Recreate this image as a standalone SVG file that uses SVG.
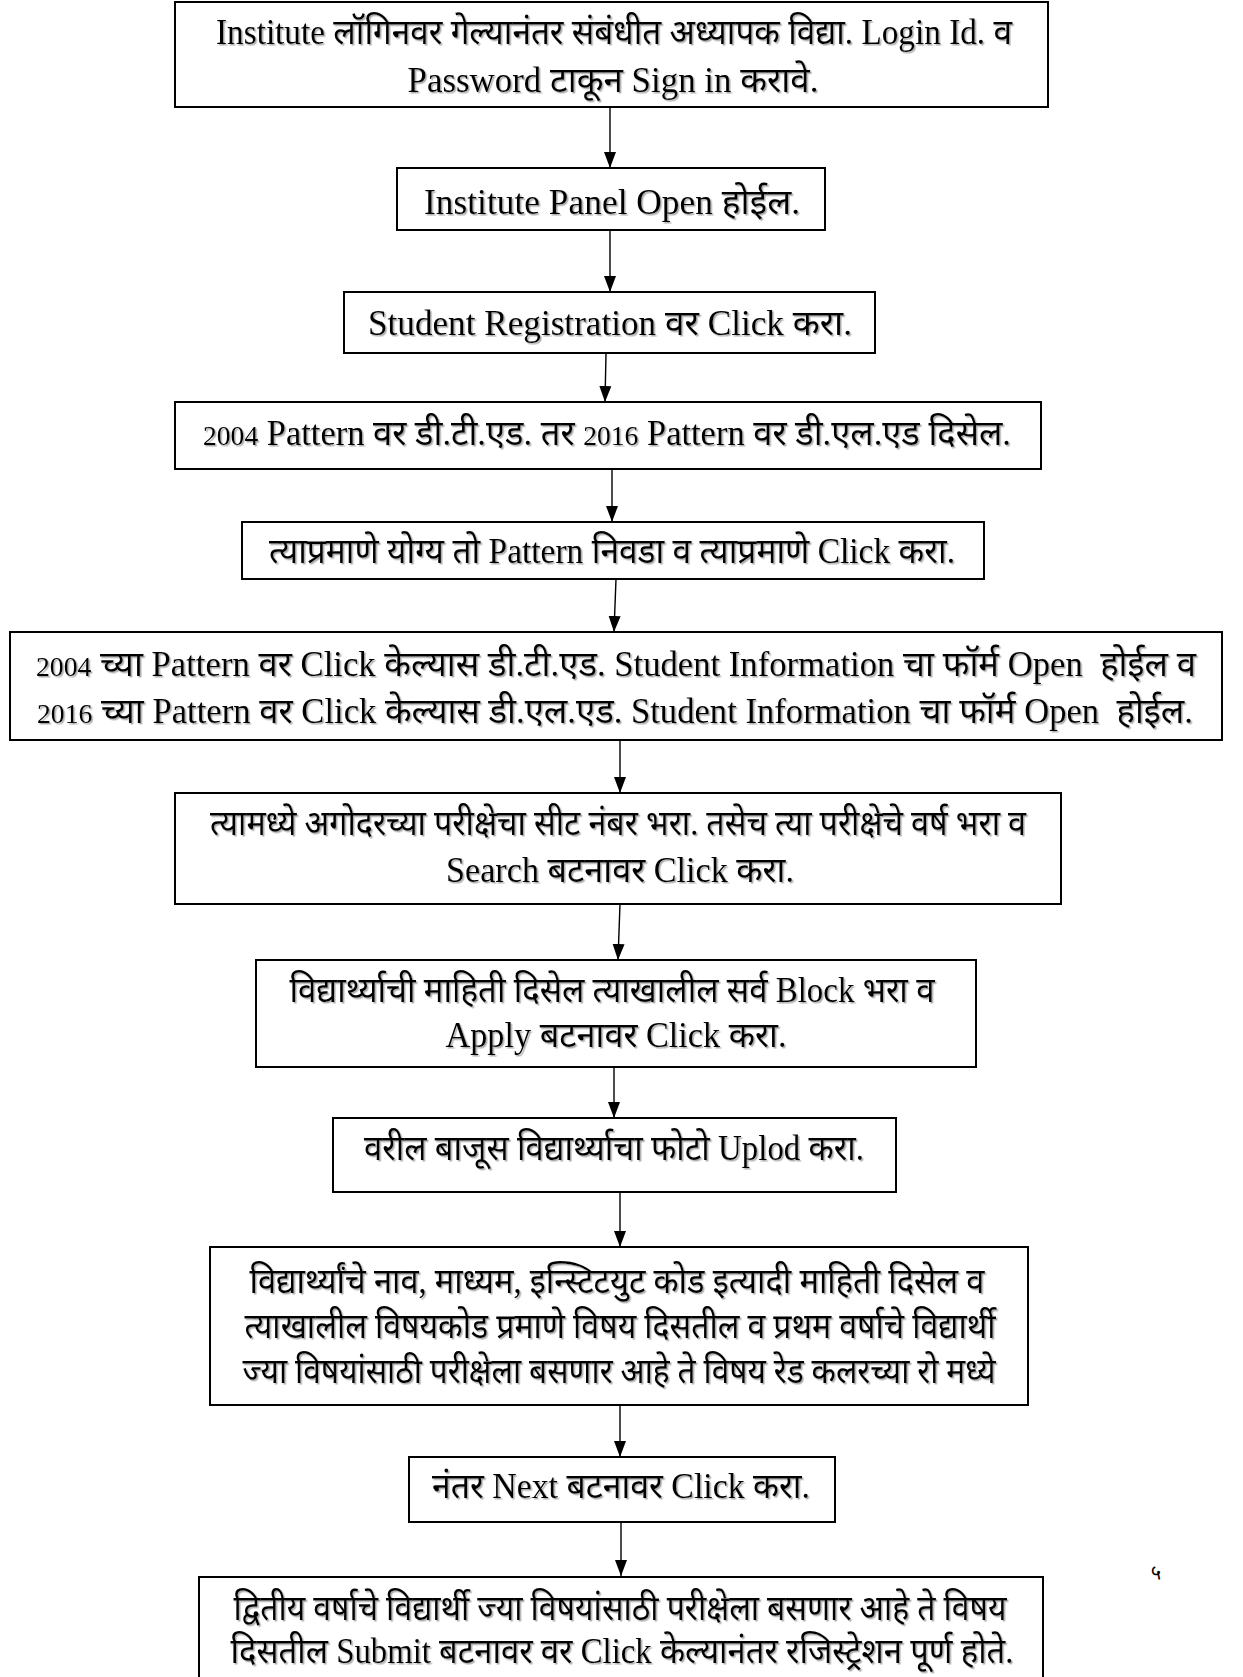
<svg xmlns="http://www.w3.org/2000/svg" width="1243" height="1677" viewBox="0 0 1243 1677">
<style>
.box{fill:#fff;stroke:#000;stroke-width:2}
.t{font-family:"Liberation Serif","Noto Sans",serif;font-size:35px;fill:#000;text-anchor:middle;filter:url(#sh)}
.d{font-size:28px}
.c{stroke:#000;stroke-width:1.4;fill:none;marker-end:url(#ah)}
</style>
<defs>
<marker id="ah" markerUnits="userSpaceOnUse" markerWidth="17" markerHeight="14" refX="16" refY="6.5" orient="auto" viewBox="0 0 17 14">
<path d="M0,0.5 L16,6.5 L0,12.5 z" fill="#000"/>
</marker>
<filter id="sh" x="-5%" y="-30%" width="110%" height="160%">
<feDropShadow dx="1.5" dy="1.5" stdDeviation="0.6" flood-color="#888" flood-opacity="0.7"/>
</filter>
</defs>
<rect width="1243" height="1677" fill="#fff"/>
<g id="connectors">
<line class="c" x1="610" y1="107" x2="610" y2="168"/>
<line class="c" x1="610" y1="230" x2="610" y2="292"/>
<line class="c" x1="606" y1="353" x2="605" y2="402"/>
<line class="c" x1="612" y1="469" x2="612" y2="522"/>
<line class="c" x1="616" y1="579" x2="614" y2="632"/>
<line class="c" x1="620" y1="740" x2="620" y2="793"/>
<line class="c" x1="620" y1="904" x2="618" y2="960"/>
<line class="c" x1="614" y1="1067" x2="614" y2="1118"/>
<line class="c" x1="620" y1="1192" x2="620" y2="1247"/>
<line class="c" x1="620" y1="1405" x2="620" y2="1457"/>
<line class="c" x1="621" y1="1522" x2="621" y2="1576"/>
</g>
<g id="n1"><rect class="box" x="175" y="2" width="873" height="105"/>
<text class="t" x="614" y="44" textLength="796" lengthAdjust="spacingAndGlyphs">Institute लॉगिनवर गेल्यानंतर संबंधीत अध्यापक विद्या. Login Id. व</text>
<text class="t" x="613" y="92" textLength="411" lengthAdjust="spacingAndGlyphs">Password टाकून Sign in करावे.</text></g>
<g id="n2"><rect class="box" x="397" y="168" width="428" height="62"/>
<text class="t" x="612" y="214" textLength="376" lengthAdjust="spacingAndGlyphs">Institute Panel Open होईल.</text></g>
<g id="n3"><rect class="box" x="344" y="292" width="531" height="61"/>
<text class="t" x="610" y="335" textLength="484" lengthAdjust="spacingAndGlyphs">Student Registration वर Click करा.</text></g>
<g id="n4"><rect class="box" x="175" y="402" width="866" height="67"/>
<text class="t" x="607" y="445" textLength="808" lengthAdjust="spacingAndGlyphs"><tspan class="d">2004</tspan> Pattern वर डी.टी.एड. तर <tspan class="d">2016</tspan> Pattern वर डी.एल.एड दिसेल.</text></g>
<g id="n5"><rect class="box" x="242" y="522" width="742" height="57"/>
<text class="t" x="612" y="563" textLength="686" lengthAdjust="spacingAndGlyphs">त्याप्रमाणे योग्य तो Pattern निवडा व त्याप्रमाणे Click करा.</text></g>
<g id="n6"><rect class="box" x="10" y="632" width="1212" height="108"/>
<text class="t" x="616" y="676" textLength="1160" lengthAdjust="spacingAndGlyphs"><tspan class="d">2004</tspan> च्या Pattern वर Click केल्यास डी.टी.एड. Student Information चा फॉर्म Open &#160;होईल व</text>
<text class="t" x="615" y="723" textLength="1156" lengthAdjust="spacingAndGlyphs"><tspan class="d">2016</tspan> च्या Pattern वर Click केल्यास डी.एल.एड. Student Information चा फॉर्म Open &#160;होईल.</text></g>
<g id="n7"><rect class="box" x="175" y="793" width="886" height="111"/>
<text class="t" x="618" y="835" textLength="816" lengthAdjust="spacingAndGlyphs">त्यामध्ये अगोदरच्या परीक्षेचा सीट नंबर भरा. तसेच त्या परीक्षेचे वर्ष भरा व</text>
<text class="t" x="620" y="882" textLength="348" lengthAdjust="spacingAndGlyphs">Search बटनावर Click करा.</text></g>
<g id="n8"><rect class="box" x="256" y="960" width="720" height="107"/>
<text class="t" x="612" y="1002" textLength="645" lengthAdjust="spacingAndGlyphs">विद्यार्थ्याची माहिती दिसेल त्याखालील सर्व Block भरा व</text>
<text class="t" x="616" y="1047" textLength="341" lengthAdjust="spacingAndGlyphs">Apply बटनावर Click करा.</text></g>
<g id="n9"><rect class="box" x="333" y="1118" width="563" height="74"/>
<text class="t" x="614" y="1160" textLength="500" lengthAdjust="spacingAndGlyphs">वरील बाजूस विद्यार्थ्याचा फोटो Uplod करा.</text></g>
<g id="n10"><rect class="box" x="210" y="1247" width="818" height="158"/>
<text class="t" x="617" y="1293" textLength="735" lengthAdjust="spacingAndGlyphs">विद्यार्थ्यांचे नाव, माध्यम, इन्स्टिटयुट कोड इत्यादी माहिती दिसेल व</text>
<text class="t" x="620" y="1338" textLength="751" lengthAdjust="spacingAndGlyphs">त्याखालील विषयकोड प्रमाणे विषय दिसतील व प्रथम वर्षाचे विद्यार्थी</text>
<text class="t" x="619" y="1383" textLength="753" lengthAdjust="spacingAndGlyphs">ज्या विषयांसाठी परीक्षेला बसणार आहे ते विषय रेड कलरच्या रो मध्ये</text></g>
<g id="n11"><rect class="box" x="409" y="1457" width="426" height="65"/>
<text class="t" x="621" y="1498" textLength="378" lengthAdjust="spacingAndGlyphs">नंतर Next बटनावर Click करा.</text></g>
<g id="n12"><rect class="box" x="199" y="1577" width="844" height="110"/>
<text class="t" x="620" y="1620" textLength="773" lengthAdjust="spacingAndGlyphs">द्वितीय वर्षाचे विद्यार्थी ज्या विषयांसाठी परीक्षेला बसणार आहे ते विषय</text>
<text class="t" x="622" y="1663" textLength="783" lengthAdjust="spacingAndGlyphs">दिसतील Submit बटनावर वर Click केल्यानंतर रजिस्ट्रेशन पूर्ण होते.</text></g>
<text x="1156" y="1580" style="font-family:'Liberation Serif','Noto Sans',serif;font-size:20px" text-anchor="middle">५</text>
</svg>
